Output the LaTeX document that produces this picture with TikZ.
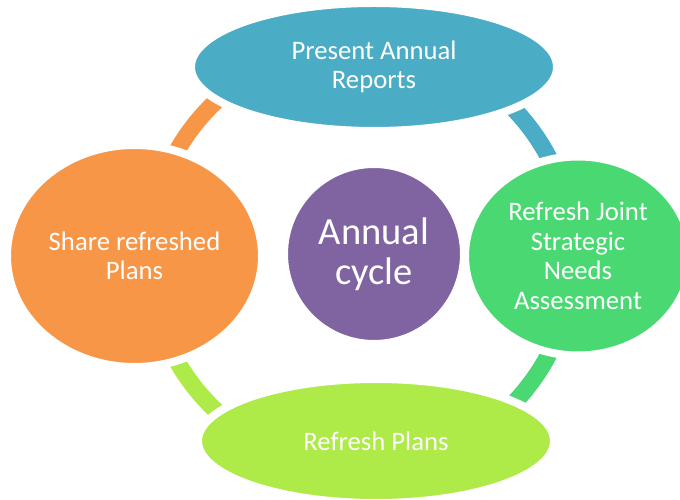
\documentclass[tikz,border=0pt]{standalone}
\usepackage{fontspec}
\setmainfont{Carlito}
\usetikzlibrary{shapes.geometric}
\definecolor{cblue}{HTML}{4BACC6}
\definecolor{corange}{HTML}{F79646}
\definecolor{cgreen}{HTML}{4AD873}
\definecolor{clime}{HTML}{AEEA48}
\definecolor{cpurple}{HTML}{8064A2}
\tikzset{
  blob/.style={ellipse, draw=white, line width=8pt, inner sep=0pt, text=white, align=center,
     font=\fontsize{26.7}{29.5}\selectfont},
  ringseg/.style={line width=17pt}
}
\begin{document}
\begin{tikzpicture}[x=1pt,y=1pt]
\useasboundingbox (0,0) rectangle (680,500);
\coordinate (ringc) at (361,244);
% ring segments
\draw[ringseg, cblue]   ([shift={(86:212)}]ringc) arc[start angle=86, end angle=0, radius=212];
\draw[ringseg, cgreen]  ([shift={(0:212)}]ringc) arc[start angle=0, end angle=-86, radius=212];
\draw[ringseg, clime]   ([shift={(-86:212)}]ringc) arc[start angle=-86, end angle=-180, radius=212];
\draw[ringseg, corange] ([shift={(180:212)}]ringc) arc[start angle=180, end angle=86, radius=212];
% shapes
\node[blob, fill=cblue, minimum width=366pt, minimum height=128pt] (top) at (374,433) {Present Annual\\Reports};
\node[blob, fill=cgreen, minimum width=226pt, minimum height=199pt] (right) at (578,244) {Refresh Joint\\Strategic\\Needs\\Assessment};
\node[blob, fill=clime, minimum width=356pt, minimum height=124pt] (bottom) at (376,59) {Refresh Plans};
\node[blob, fill=corange, minimum width=255pt, minimum height=222pt] (left) at (134.5,244) {Share refreshed\\Plans};
\node[blob, fill=cpurple, minimum width=180pt, minimum height=180pt, font=\fontsize{38.5}{40}\selectfont] (center) at (374,246) {Annual\\cycle};
\end{tikzpicture}
\end{document}
